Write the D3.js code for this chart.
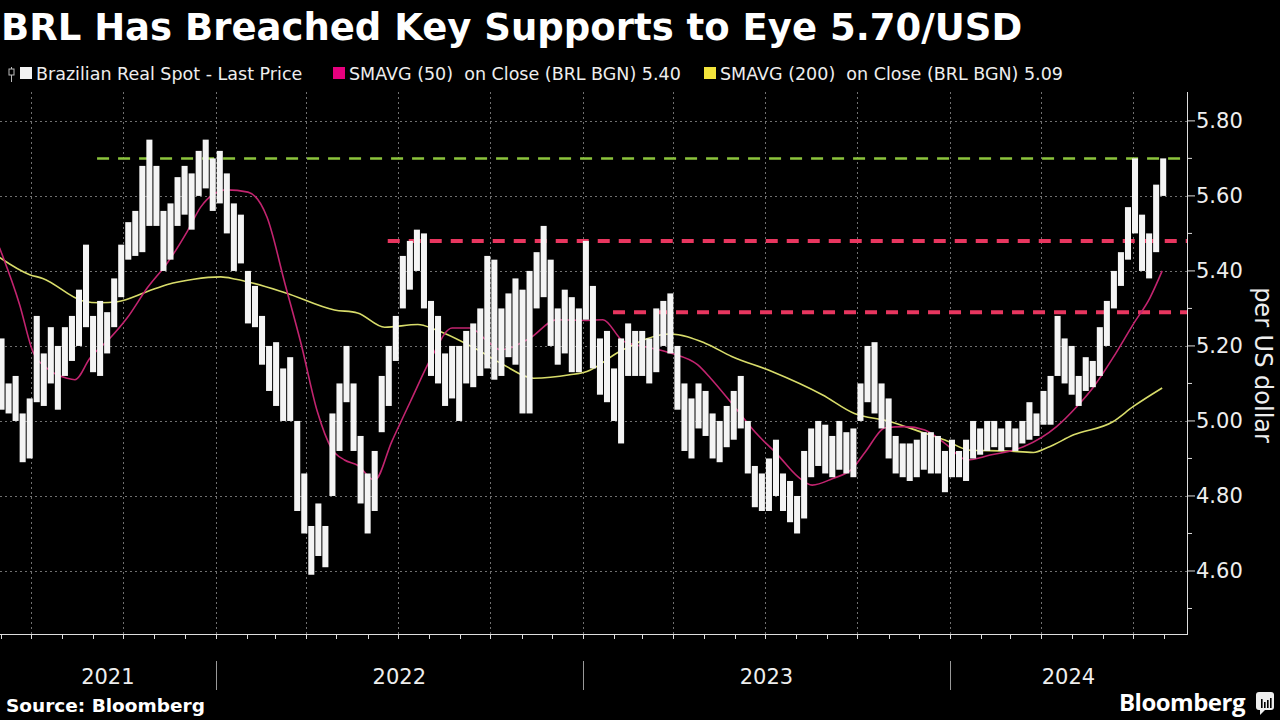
<!DOCTYPE html>
<meta charset="utf-8">
<style>
body { margin: 0; background: #000; }
svg { display: block; background: #000; }
.lbl { font-family: "DejaVu Sans", sans-serif; }
</style>
<svg width="1280" height="720"></svg>
<script src="https://d3js.org/d3.v7.min.js"></script>
<script>

// weekly price ranges, first week starts Monday 2021-05-31
var firstWeek = "2021-05-31"
var weekHigh = [5.22,5.10,5.12,5.02,5.06,5.28,5.18,5.25,5.20,5.25,5.28,5.35,5.47,5.28,5.32,5.29,5.38,5.47,5.53,5.56,
	5.68,5.75,5.68,5.56,5.58,5.65,5.68,5.66,5.72,5.75,5.70,5.72,5.66,5.58,5.55,5.40,5.36,5.28,5.20,5.21,
	5.14,5.17,5.00,4.86,4.72,4.78,4.72,5.02,5.10,5.20,5.10,4.96,4.86,4.92,5.12,5.20,5.28,5.44,5.48,5.51,
	5.50,5.32,5.28,5.18,5.20,5.20,5.24,5.26,5.30,5.44,5.43,5.30,5.34,5.38,5.35,5.40,5.45,5.52,5.43,5.30,
	5.35,5.33,5.30,5.48,5.36,5.22,5.24,5.14,5.22,5.26,5.24,5.24,5.22,5.30,5.32,5.34,5.20,5.10,5.06,5.10,
	5.08,5.02,5.00,5.04,5.08,5.12,5.00,4.88,4.86,4.90,4.95,4.86,4.84,4.80,4.92,4.98,5.00,4.99,4.96,5.00,
	4.97,4.98,5.10,5.20,5.21,5.10,5.06,4.96,4.94,4.94,4.95,4.97,4.97,4.96,4.92,4.95,4.92,4.95,5.00,4.98,
	5.00,5.00,4.98,5.00,4.98,5.00,5.05,5.02,5.08,5.12,5.28,5.22,5.20,5.12,5.17,5.16,5.25,5.32,5.40,5.45,
	5.57,5.70,5.55,5.50,5.63,5.70]
var weekLow = [5.03,5.02,5.00,4.89,4.90,5.05,5.04,5.10,5.03,5.12,5.16,5.20,5.25,5.13,5.12,5.18,5.25,5.33,5.43,5.44,
	5.45,5.52,5.52,5.40,5.43,5.52,5.55,5.51,5.60,5.62,5.56,5.58,5.50,5.40,5.42,5.26,5.25,5.15,5.08,5.04,
	5.00,5.00,4.76,4.70,4.59,4.64,4.61,4.80,4.92,5.05,4.92,4.78,4.70,4.76,4.97,5.04,5.16,5.30,5.35,5.40,
	5.30,5.12,5.10,5.04,5.06,5.00,5.10,5.09,5.12,5.14,5.11,5.12,5.17,5.15,5.02,5.02,5.30,5.33,5.20,5.15,
	5.18,5.13,5.13,5.27,5.14,5.07,5.05,5.00,4.94,5.12,5.12,5.12,5.10,5.13,5.20,5.18,5.03,4.92,4.90,4.98,
	4.96,4.90,4.89,4.93,4.95,4.98,4.86,4.77,4.76,4.76,4.80,4.76,4.73,4.70,4.74,4.85,4.88,4.86,4.85,4.87,
	4.86,4.85,5.00,5.05,5.02,4.98,4.90,4.86,4.85,4.84,4.85,4.87,4.86,4.86,4.81,4.85,4.85,4.84,4.90,4.91,
	4.92,4.93,4.92,4.93,4.92,4.94,4.95,4.96,4.99,4.99,5.12,5.10,5.07,5.04,5.08,5.09,5.12,5.20,5.30,5.36,
	5.43,5.50,5.40,5.38,5.45,5.60]

// 50-day moving average
var sma50Dates = ["2021-05-31","2021-06-20","2021-07-03","2021-07-17","2021-08-06","2021-08-14","2021-08-29","2021-09-18",
	"2021-10-05","2021-10-25","2021-11-14","2021-12-04","2021-12-17","2021-12-30","2022-01-12","2022-02-02","2022-02-21",
	"2022-03-11","2022-03-27","2022-04-12","2022-04-26","2022-05-09","2022-05-22","2022-06-08","2022-06-25","2022-07-15",
	"2022-08-04","2022-08-24","2022-09-11","2022-09-28","2022-10-11","2022-11-09","2022-12-06","2023-01-05","2023-01-21",
	"2023-02-10","2023-03-09","2023-03-29","2023-04-25","2023-05-08","2023-05-29","2023-06-21","2023-07-14","2023-08-03",
	"2023-08-17","2023-09-06","2023-09-26","2023-10-09","2023-10-29","2023-11-17","2023-12-07","2023-12-27","2024-01-18",
	"2024-02-10","2024-03-14","2024-04-16","2024-05-06","2024-05-22","2024-06-11","2024-07-01","2024-07-18","2024-07-30"]
var sma50Values = [5.462,5.31,5.186,5.141,5.114,5.11,5.168,5.221,
	5.275,5.355,5.422,5.507,5.57,5.605,5.616,5.61,5.543,
	5.364,5.204,5.025,4.927,4.896,4.882,4.842,4.945,5.06,
	5.172,5.248,5.248,5.213,5.19,5.22,5.27,5.268,5.27,
	5.213,5.195,5.181,5.15,5.114,5.047,4.971,4.909,4.851,
	4.829,4.846,4.873,4.918,4.982,4.985,4.976,4.94,4.896,
	4.909,4.931,4.985,5.038,5.088,5.168,5.257,5.329,5.40]

// 200-day moving average
var sma200Dates = ["2021-05-31","2021-06-30","2021-07-13","2021-08-22","2021-09-08","2021-09-25","2021-10-25","2021-11-14",
	"2021-12-10","2022-01-06","2022-01-21","2022-03-11","2022-04-29","2022-05-22","2022-06-18","2022-07-21","2022-08-07",
	"2022-09-16","2022-10-14","2022-11-13","2022-12-19","2023-01-05","2023-02-07","2023-03-29","2023-05-02","2023-05-29",
	"2023-07-08","2023-08-27","2023-09-28","2023-10-31","2023-12-04","2023-12-27","2024-01-21","2024-02-27","2024-03-24",
	"2024-04-07","2024-05-03","2024-06-11","2024-07-01","2024-07-30"]
var sma200Values = [5.436,5.39,5.38,5.32,5.315,5.318,5.345,5.364,
	5.378,5.384,5.378,5.342,5.296,5.288,5.25,5.257,5.244,
	5.193,5.15,5.114,5.123,5.132,5.186,5.232,5.208,5.172,
	5.132,5.07,5.02,5.0,4.97,4.949,4.922,4.92,4.916,
	4.929,4.963,4.998,5.038,5.088]

// horizontal levels drawn on the chart
var levelValues = [5.70, 5.48, 5.29]
var levelStarts = ["2021-09-05", "2022-06-21", "2023-01-31"]
var levelColors = ["#8cc43c", "#e8365f", "#e8365f"]

var yTicks = [4.60, 4.80, 5.00, 5.20, 5.40, 5.60, 5.80]
var years = ["2021", "2022", "2023", "2024"]

var legendLabels = ["Brazilian Real Spot - Last Price", "SMAVG (50)  on Close (BRL BGN) 5.40", "SMAVG (200)  on Close (BRL BGN) 5.09"]
var legendColors = ["#f2f2f2", "#e6007e", "#f2e33b"]

/*********************** setup *************************/

var svg = d3.select('svg')
var parse = d3.utcParse("%Y-%m-%d")

var plotRight = 1187, plotTop = 92, plotBottom = 634

var x = d3.scaleUtc()
	.domain([parse("2021-07-01"), parse("2024-07-01")])
	.range([30.7, 1133])
var y = d3.scaleLinear()
	.domain([4.432, 5.877])
	.range([plotBottom, plotTop])

var start = parse(firstWeek)
var weeks = weekHigh.map(function (h, i) {
	return { date: d3.utcDay.offset(start, i * 7), hi: h, lo: weekLow[i] }
})
var sma50 = sma50Dates.map(function (d, i) { return { date: parse(d), v: sma50Values[i] } })
var sma200 = sma200Dates.map(function (d, i) { return { date: parse(d), v: sma200Values[i] } })

svg.append('defs').append('clipPath').attr('id', 'plot')
	.append('rect').attr('x', 0).attr('y', plotTop).attr('width', plotRight).attr('height', plotBottom - plotTop)

// title
svg.append('text')
	.attr('x', 1).attr('y', 40)
	.attr('fill', '#fff')
	.style('font', 'bold 37px "DejaVu Sans", sans-serif')
	.text("BRL Has Breached Key Supports to Eye 5.70/USD")

// legend
var legend = svg.append('g').attr('class', 'lbl').style('font-size', '17.5px')
legend.append('line').attr('x1', 11.5).attr('x2', 11.5).attr('y1', 67).attr('y2', 82).attr('stroke', '#bbb')
legend.append('rect').attr('x', 9).attr('y', 69).attr('width', 5).attr('height', 6).attr('fill', '#000').attr('stroke', '#bbb')
var legendX = [20, 333, 704]
legendLabels.forEach(function (label, i) {
	legend.append('rect').attr('x', legendX[i]).attr('y', 67).attr('width', 12).attr('height', 12).attr('fill', legendColors[i])
	legend.append('text').attr('x', legendX[i] + 16).attr('y', 80).attr('fill', '#eee')
		.attr('xml:space', 'preserve')
		.style('white-space', 'pre')
		.text(label)
})

// grid
var grid = svg.append('g').attr('stroke', '#707070').attr('stroke-dasharray', '2,3')
grid.selectAll('.h').data(yTicks).enter().append('line')
	.attr('x1', 0).attr('x2', plotRight)
	.attr('y1', function (d) { return Math.round(y(d)) + 0.5 })
	.attr('y2', function (d) { return Math.round(y(d)) + 0.5 })
var quarters = d3.utcMonth.every(3).range(parse("2021-07-01"), parse("2024-08-01"))
grid.selectAll('.v').data(quarters).enter().append('line')
	.attr('x1', function (d) { return Math.round(x(d)) + 0.5 })
	.attr('x2', function (d) { return Math.round(x(d)) + 0.5 })
	.attr('y1', plotTop).attr('y2', plotBottom)

var plot = svg.append('g').attr('clip-path', 'url(#plot)')

// level lines
levelValues.forEach(function (v, i) {
	plot.append('line')
		.attr('x1', x(parse(levelStarts[i]))).attr('x2', plotRight)
		.attr('y1', y(v)).attr('y2', y(v))
		.attr('stroke', levelColors[i])
		.attr('stroke-width', i === 0 ? 2.5 : 4)
		.attr('stroke-dasharray', '12,9')
})

// moving averages
var line = d3.line()
	.x(function (d) { return x(d.date) })
	.y(function (d) { return y(d.v) })
	.curve(d3.curveMonotoneX)
plot.append('path').datum(sma200).attr('d', line)
	.attr('fill', 'none').attr('stroke', '#d8dc6a').attr('stroke-width', 1.6)
plot.append('path').datum(sma50).attr('d', line)
	.attr('fill', 'none').attr('stroke', '#c2246f').attr('stroke-width', 1.6)

// price bars
plot.selectAll('.bar').data(weeks).enter().append('rect')
	.attr('x', function (d) { return x(d.date) - 1 })
	.attr('width', function (d) { return x(d3.utcDay.offset(d.date, 7)) - x(d.date) - 1 })
	.attr('y', function (d) { return y(d.hi) })
	.attr('height', function (d) { return y(d.lo) - y(d.hi) })
	.attr('fill', '#f4f4f4')

// right axis
var axis = svg.append('g').attr('class', 'lbl')
axis.append('line').attr('x1', plotRight + 0.5).attr('x2', plotRight + 0.5).attr('y1', plotTop).attr('y2', plotBottom + 0.5)
	.attr('stroke', '#ddd')
var minor = d3.range(4.5, 5.85, 0.2)
axis.selectAll('.mt').data(minor).enter().append('line')
	.attr('x1', plotRight).attr('x2', plotRight + 5)
	.attr('y1', function (d) { return y(d) }).attr('y2', function (d) { return y(d) })
	.attr('stroke', '#ddd')
axis.selectAll('.tk').data(yTicks).enter().append('line')
	.attr('x1', plotRight).attr('x2', plotRight + 8)
	.attr('y1', function (d) { return y(d) }).attr('y2', function (d) { return y(d) })
	.attr('stroke', '#ddd')
axis.selectAll('.tl').data(yTicks).enter().append('text')
	.attr('x', plotRight + 9)
	.attr('y', function (d) { return y(d) + 7.5 })
	.attr('fill', '#eee')
	.style('font-size', '21px')
	.text(function (d) { return d3.format('.2f')(d) })
axis.append('text')
	.attr('transform', 'translate(1255,365) rotate(90)')
	.attr('text-anchor', 'middle')
	.attr('fill', '#eee')
	.style('font-size', '24px')
	.text('per US dollar')

// bottom axis
var bottom = svg.append('g').attr('class', 'lbl')
bottom.append('line').attr('x1', 0).attr('x2', plotRight + 1).attr('y1', plotBottom + 0.5).attr('y2', plotBottom + 0.5)
	.attr('stroke', '#ddd')
var months = d3.utcMonth.range(parse("2021-06-01"), parse("2024-09-01"))
bottom.selectAll('.m').data(months).enter().append('line')
	.attr('x1', function (d) { return Math.round(x(d)) + 0.5 })
	.attr('x2', function (d) { return Math.round(x(d)) + 0.5 })
	.attr('y1', plotBottom).attr('y2', plotBottom + 5)
	.attr('stroke', '#ddd')
var yearEdges = [0].concat(years.slice(1).map(function (yr) { return x(parse(yr + "-01-01")) })).concat([plotRight])
bottom.selectAll('.sep').data(yearEdges.slice(1, -1)).enter().append('line')
	.attr('x1', function (d) { return Math.round(d) + 0.5 })
	.attr('x2', function (d) { return Math.round(d) + 0.5 })
	.attr('y1', 661).attr('y2', 690)
	.attr('stroke', '#999')
bottom.selectAll('.yr').data(years).enter().append('text')
	.attr('x', function (d, i) { return (yearEdges[i] + yearEdges[i + 1]) / 2 })
	.attr('y', 684)
	.attr('text-anchor', 'middle')
	.attr('fill', '#eee')
	.style('font-size', '21px')
	.text(function (d) { return d })

// footer
svg.append('text')
	.attr('x', 6).attr('y', 712)
	.attr('fill', '#fff')
	.style('font', 'bold 18.5px "DejaVu Sans", sans-serif')
	.text('Source: Bloomberg')
svg.append('text')
	.attr('x', 1245).attr('y', 711)
	.attr('text-anchor', 'end')
	.attr('fill', '#fff')
	.style('font', 'bold 24px "Open Sans", sans-serif')
	.style('letter-spacing', '-0.5px')
	.text('Bloomberg')
var logo = svg.append('g').attr('transform', 'translate(1256,692)')
logo.append('rect').attr('width', 18).attr('height', 18).attr('rx', 3).attr('fill', '#eee')
logo.append('path').attr('d', 'M4,18 L4,23 L9,18 Z').attr('fill', '#eee')
;[[5, 9], [8, 6], [11, 8], [14, 10]].forEach(function (b) {
	logo.append('rect').attr('x', b[0]).attr('y', 16 - b[1]).attr('width', 1.6).attr('height', b[1]).attr('fill', '#000')
})
</script>
